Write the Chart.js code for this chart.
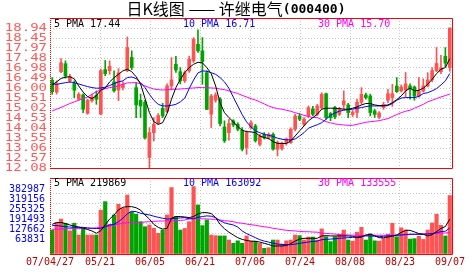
<!DOCTYPE html>
<html><head><meta charset="utf-8">
<script src="https://cdn.jsdelivr.net/npm/chart.js@4.4.1/dist/chart.umd.min.js"></script>
<style>
html,body{margin:0;padding:0;background:#fff;width:472px;height:273px;overflow:hidden}
canvas{position:absolute;left:0}
#p{top:0}
#v{top:175px}
</style></head><body>
<canvas id="p" width="472" height="175"></canvas>
<canvas id="v" width="472" height="98"></canvas>
<script>
// ---------------- data ----------------
const titleMain = '日K线图 —— 许继电气';
const titleCode = '(000400)';
const xLabels = ['07/04/27','05/21','06/05','06/21','07/06','07/24','08/08','08/23','09/07'];
const priceTicks = ['12.08','12.57','13.06','13.55','14.04','14.53','15.02','15.51','16.00','16.49','16.98','17.48','17.97','18.45','18.94'];
const volTicks = ['63831','127662','191493','255325','319156','382987'];
const priceLegend = ['5 PMA 17.44','10 PMA 16.71','30 PMA 15.70'];
const volLegend = ['5 PMA 219869','10 PMA 163092','30 PMA 133555'];

const open = [16.38,15.80,16.80,17.19,16.35,16.22,15.45,15.66,14.76,15.38, 15.64,14.72,16.90,16.85,16.30,15.90,16.02,16.84,17.50,16.02, 15.40,15.30,12.59,13.81,14.30,15.00,14.85,16.10,17.16,16.80, 16.35,16.84,17.33,18.14,17.82,16.75,14.71,15.40,15.45,14.09, 13.81,14.39,14.22,13.93,13.08,14.06,14.14,13.24,13.73,13.57, 13.73,13.00,13.03,13.30,13.32,13.98,14.63,14.22,14.63,14.96, 14.71,15.04,15.72,14.75,15.04,14.71,15.17,15.17,14.70,14.80, 15.30,15.66,15.61,14.88,14.58,15.04,15.40,15.53,16.10,15.86, 15.90,16.10,16.05,15.60,15.85,16.10,16.40,16.85,16.80,17.55, 17.00];
const high = [16.51,16.35,17.44,17.33,16.67,16.35,15.77,15.72,15.45,15.70, 15.86,16.93,17.35,17.33,16.84,16.95,16.30,18.50,17.82,16.27, 15.70,15.40,14.06,14.55,14.75,15.25,16.20,17.49,17.55,17.00, 16.84,17.57,18.47,18.85,18.47,16.84,15.69,15.77,15.53,14.39, 14.47,14.45,14.30,14.06,13.90,14.39,14.22,13.73,13.82,13.80, 13.80,13.41,13.35,13.55,14.05,14.71,14.75,14.55,15.12,15.10, 15.20,15.77,15.75,14.80,15.10,15.05,15.86,15.25,14.90,15.45, 16.02,15.75,15.70,14.95,14.85,15.30,15.94,16.18,16.51,16.15, 16.76,16.20,16.10,16.51,16.45,16.75,17.00,17.98,17.60,17.98, 18.94];
const low = [15.69,15.70,16.75,16.48,16.26,15.53,15.40,14.79,14.71,15.30, 15.20,14.68,16.60,16.67,15.80,15.38,15.90,16.80,16.90,14.55, 14.55,13.49,12.08,13.40,14.20,14.55,14.80,15.90,16.76,16.20, 16.27,16.76,17.25,17.74,16.18,14.95,14.06,15.30,14.14,13.33, 13.44,14.10,13.90,12.92,12.75,14.00,13.35,13.16,13.50,13.50, 12.95,12.67,12.95,13.20,13.28,13.90,14.40,14.15,14.55,14.65, 14.65,14.96,14.47,14.40,14.50,14.65,14.96,14.55,14.60,14.55, 15.20,15.45,14.63,14.55,14.50,14.95,15.28,15.10,15.78,15.80, 15.55,15.45,15.40,15.55,15.80,16.05,16.30,16.80,16.70,17.05, 16.82];
const close = [15.82,16.20,17.24,16.59,16.57,15.89,15.69,14.96,15.40,15.56, 15.45,16.85,16.70,17.06,15.86,16.75,16.18,17.98,17.00,15.17, 15.12,13.57,13.81,14.22,14.65,14.63,16.10,16.40,16.88,16.35, 16.75,17.41,18.39,17.82,17.30,14.95,15.61,15.66,14.26,13.41, 14.26,14.19,13.98,13.00,13.81,14.30,13.41,13.65,13.57,13.73, 13.00,13.32,13.30,13.49,13.98,14.63,14.47,14.47,15.04,14.71, 15.12,15.69,14.55,14.55,14.58,14.96,15.37,14.80,14.82,15.30, 15.69,15.53,14.80,14.71,14.78,15.20,15.72,15.72,15.82,16.05, 16.20,15.95,15.60,15.85,16.10,16.40,16.85,17.20,16.99,17.22, 18.94];

const ma5 = [16.15,16.30,16.47,16.53,16.55,16.45,16.10,15.80,15.58,15.48, 15.62,15.90,16.00,16.30,16.50,16.67,16.84,16.92,16.80,16.55, 16.20,15.50,14.80,14.35,14.22,14.30,14.75,15.45,16.02,16.43, 16.75,17.00,17.16,17.26,17.23,17.00,16.70,16.10,15.28,14.79, 14.55,14.34,14.11,13.93,13.86,13.85,13.81,13.65,13.57,13.52, 13.37,13.29,13.28,13.28,13.41,13.65,13.90,14.14,14.39,14.55, 14.71,14.96,15.01,15.01,15.01,14.99,14.96,14.96,15.01,15.07, 15.17,15.24,15.24,15.17,15.14,15.14,15.17,15.28,15.43,15.61, 15.86,15.99,15.86,15.89,15.99,16.18,16.43,16.70,16.92,17.00, 17.44];
const ma10 = [16.20,16.18,16.22,16.26,16.30,16.26,16.20,16.13,16.07,16.02, 15.99,16.00,16.04,16.12,16.22,16.30,16.35,16.51,16.54,16.46, 16.26,16.02,15.69,15.40,15.20,15.12,15.12,15.15,15.20,15.32, 15.50,15.97,16.39,16.74,16.84,16.82,16.75,16.67,16.51,16.30, 15.99,15.55,15.12,14.70,14.34,14.09,13.90,13.81,13.73,13.68, 13.63,13.54,13.49,13.46,13.46,13.50,13.65,13.81,14.03,14.12, 14.20,14.30,14.47,14.66,14.78,14.86,14.91,14.94,14.96,15.01, 15.04,15.09,15.12,15.12,15.12,15.12,15.14,15.24,15.40,15.51, 15.53,15.53,15.53,15.59,15.73,15.77,15.86,15.97,16.15,16.35, 16.71];
const ma30 = [14.88,14.96,15.05,15.14,15.24,15.32,15.40,15.48,15.56,15.69, 15.82,15.90,15.97,16.02,16.05,16.10,16.18,16.25,16.26,16.26, 16.20,16.10,16.02,15.95,15.92,15.90,15.92,15.94,15.94,15.95, 15.97,15.99,16.00,16.02,16.02,16.02,16.00,15.99,15.95,15.92, 15.86,15.79,15.73,15.64,15.56,15.48,15.41,15.32,15.22,15.12, 15.04,14.99,14.96,14.91,14.86,14.79,14.73,14.66,14.60,14.56, 14.55,14.45,14.35,14.29,14.24,14.21,14.19,14.17,14.17,14.22, 14.27,14.32,14.35,14.37,14.40,14.45,14.50,14.60,14.70,14.79, 14.86,14.91,15.01,15.10,15.20,15.32,15.40,15.48,15.56,15.63, 15.70];

// volume, thousand shares
const vol = [150,198,220,193,144,193,118,161,118,118, 118,277,331,186,246,314,288,373,266,251, 203,171,182,161,129,150,246,421,236,150, 160,203,427,310,178,214,118,114,112,112, 86,65,81,65,112,78,78,65,33,37, 86,86,59,81,86,118,114,86,105,105, 86,157,107,76,107,123,150,86,79,136, 167,86,125,81,79,97,123,193,107,164, 150,92,95,110,90,150,195,250,180,112, 370];
const vma5 = [186,197,198,191,182,175,169,162,153,144, 129,146,182,220,246,279,295,299,299,292, 277,246,220,186,167,156,160,225,236,236, 233,229,236,253,261,261,255,229,186,158, 136,118,101,90,83,79,78,73,65,57, 48,48,48,51,63,79,92,97,97,97, 97,112,114,112,112,112,112,112,110,101, 105,118,123,114,101,101,105,110,118,134, 148,148,138,127,123,112,120,140,160,172, 219.869];
const vma10 = [178,178,175,171,169,167,167,167,164,161, 159,161,171,182,186,203,225,253,270,267, 257,251,246,238,231,225,220,222,225,227, 229,222,222,231,236,240,238,229,209,196, 188,182,169,144,127,114,101,88,79,73, 65,60,58,56,56,60,65,69,73,77, 79,88,90,92,94,97,99,101,103,105, 110,112,112,110,107,110,112,114,116,118, 121,123,123,123,123,125,127,133,140,142, 163.092];
const vma30 = [155,155,157,157,159,159,159,159,159,161, 164,167,171,175,182,188,193,197,198,198, 198,201,203,205,207,207,209,209,209,211, 214,221,224,224,221,221,219,218,214,209, 207,203,196,193,188,184,180,175,171,167, 161,157,152,148,146,144,141,139,139,137, 136,130,128,126,124,122,120,118,117,116, 116,116,116,116,116,116,116,117,118,119, 120,121,122,123,124,125,126,128,130,131, 133.555];

// ---------------- styling ----------------
const RED = '#ff5353', GREEN = '#00a400';
const GRID = '#c4c4c4';
const MONO = '"DejaVu Sans Mono", monospace';
Chart.defaults.font.family = MONO;
Chart.defaults.font.size = 10;

const idx = open.map((_, i) => i);
const colors = idx.map(i => close[i] >= open[i] ? RED : GREEN);
const pts = arr => idx.map(i => ({x: i, y: arr[i]}));
// x gridlines every 50px across a 402px plot holding 91 bars
const xTickVals = xLabels.map((_, k) => -0.5 + k * 50 * 91 / 402);
const priceTickVals = priceTicks.map((_, k) => 12.08 + 0.49 * k);
const volTickVals = volTicks.map(s => Number(s) / 1000);

function line(data, color) {
  return {type: 'line', data, borderColor: color, borderWidth: 1, pointRadius: 0, tension: 0, order: 0};
}
function xScale(h) {
  return {
    type: 'linear', min: -0.5, max: 90.5, offset: false,
    grid: {offset: false, color: GRID, drawTicks: false},
    border: {display: false, dash: [1, 2]},
    ticks: {display: false},
    afterBuildTicks: s => { s.ticks = xTickVals.map(v => ({value: v})); },
    afterFit: s => { s.height = h; }
  };
}
function drawFrame(ctx, a) {
  ctx.save();
  ctx.strokeStyle = '#ff0000';
  ctx.lineWidth = 1;
  ctx.beginPath();
  ctx.moveTo(a.left, a.top + 0.5);
  ctx.lineTo(a.right + 0.5, a.top + 0.5);
  ctx.lineTo(a.right + 0.5, a.bottom + 0.5);
  ctx.lineTo(a.left, a.bottom + 0.5);
  ctx.stroke();
  ctx.setLineDash([1, 1]);
  ctx.beginPath();
  ctx.moveTo(a.left + 0.5, a.top);
  ctx.lineTo(a.left + 0.5, a.bottom);
  ctx.stroke();
  ctx.restore();
}
function drawLegend(ctx, a, texts, y) {
  const cols = ['#000000', '#0000ff', '#ff00ff'];
  const xs = [a.left + 4, a.left + 133, a.left + 268];
  ctx.save();
  ctx.font = '10px ' + MONO;
  ctx.textBaseline = 'middle';
  ctx.textAlign = 'left';
  texts.forEach((t, k) => { ctx.fillStyle = cols[k]; ctx.fillText(t, xs[k], y); });
  ctx.restore();
}

const pricePlugin = {
  id: 'pricePlugin',
  afterDraw(chart) {
    const {ctx, chartArea: a, scales: {y}} = chart;
    drawFrame(ctx, a);
    drawLegend(ctx, a, priceLegend, a.top + 6.5);
    // y labels (wide digits)
    ctx.save();
    ctx.fillStyle = '#ff5a5a';
    ctx.font = '10px ' + MONO;
    ctx.textAlign = 'right';
    ctx.textBaseline = 'middle';
    priceTicks.forEach((t, k) => {
      const py = y.getPixelForValue(priceTickVals[k]);
      ctx.save();
      ctx.translate(a.left - 3, py);
      ctx.scale(1.4, 1);
      ctx.fillText(t, 0, 0);
      ctx.restore();
    });
    ctx.restore();
    // title
    ctx.save();
    ctx.fillStyle = '#000';
    ctx.textBaseline = 'middle';
    ctx.textAlign = 'left';
    const f1 = '16px "Noto Sans CJK SC"', f2 = 'bold 13px ' + MONO;
    ctx.font = f1; const w1 = ctx.measureText(titleMain).width;
    ctx.font = f2; const w2 = ctx.measureText(titleCode).width;
    const x0 = 236 - (w1 + w2) / 2;
    ctx.font = f1; ctx.fillText(titleMain, x0, 9);
    ctx.font = f2; ctx.fillText(titleCode, x0 + w1, 9.5);
    ctx.restore();
  }
};
const volPlugin = {
  id: 'volPlugin',
  afterDraw(chart) {
    const {ctx, chartArea: a, scales: {x, y}} = chart;
    drawFrame(ctx, a);
    drawLegend(ctx, a, volLegend, a.top + 5);
    ctx.save();
    ctx.font = '10px ' + MONO;
    ctx.textBaseline = 'middle';
    // volume labels sit just above their gridlines
    ctx.fillStyle = '#0000ff';
    ctx.textAlign = 'right';
    volTicks.forEach((t, k) => ctx.fillText(t, a.left - 5, y.getPixelForValue(volTickVals[k]) - 4));
    // date labels
    ctx.fillStyle = '#c00000';
    ctx.textAlign = 'center';
    xLabels.forEach((t, k) => {
      const w = ctx.measureText(t).width;
      const px = Math.max(x.getPixelForValue(xTickVals[k]), 20 + w / 2);
      ctx.fillText(t, px, a.bottom + 8);
    });
    ctx.restore();
  }
};

new Chart(document.getElementById('p'), {
  type: 'bar',
  data: {datasets: [
    line(pts(ma5), '#000000'),
    line(pts(ma10), '#0000ff'),
    line(pts(ma30), '#ff00ff'),
    {data: idx.map(i => ({x: i, y: [open[i], close[i]]})), backgroundColor: colors, barThickness: 3, grouped: false, minBarLength: 1, order: 1},
    {data: idx.map(i => ({x: i, y: [low[i], high[i]]})), backgroundColor: colors, barThickness: 1, grouped: false, order: 2}
  ]},
  options: {
    responsive: false, animation: false, events: [],
    layout: {padding: {left: 0, right: 20, top: 18, bottom: 7}},
    plugins: {legend: {display: false}, tooltip: {enabled: false}},
    scales: {
      x: xScale(0),
      y: {
        min: 12.08, max: 12.08 + 0.49 * 15,
        grid: {color: GRID, drawTicks: false},
        border: {display: false, dash: [1, 2]},
        ticks: {display: false},
        afterBuildTicks: s => { s.ticks = priceTickVals.map(v => ({value: v})); },
        afterFit: s => { s.width = 50; }
      }
    }
  },
  plugins: [pricePlugin]
});

new Chart(document.getElementById('v'), {
  type: 'bar',
  data: {datasets: [
    line(pts(vma5), '#000000'),
    line(pts(vma10), '#0000ff'),
    line(pts(vma30), '#ff00ff'),
    {data: idx.map(i => ({x: i, y: vol[i]})), backgroundColor: colors, barThickness: 3.5, grouped: false, order: 1}
  ]},
  options: {
    responsive: false, animation: false, events: [],
    layout: {padding: {left: 0, right: 20, top: 3, bottom: 0}},
    plugins: {legend: {display: false}, tooltip: {enabled: false}},
    scales: {
      x: xScale(19),
      y: {
        min: -3.2, max: -3.2 + 76 * 63.831 / 10,
        grid: {color: GRID, drawTicks: false},
        border: {display: false, dash: [1, 2]},
        ticks: {display: false},
        afterBuildTicks: s => { s.ticks = volTickVals.map(v => ({value: v})); },
        afterFit: s => { s.width = 50; }
      }
    }
  },
  plugins: [volPlugin]
});
</script>
</body></html>
